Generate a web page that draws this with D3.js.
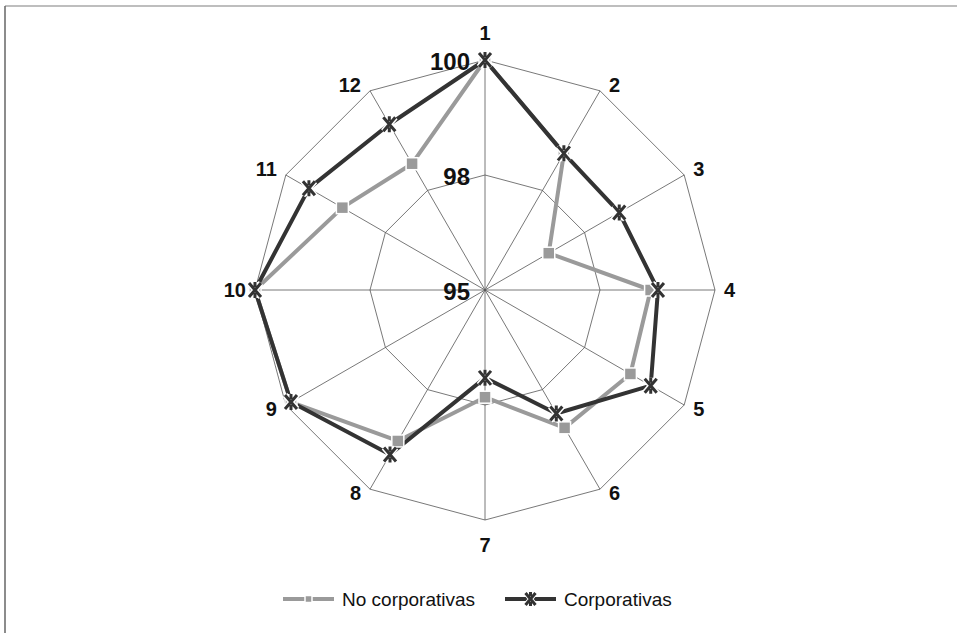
<!DOCTYPE html>
<html><head><meta charset="utf-8">
<script src="https://cdn.jsdelivr.net/npm/d3@7"></script>
<style>body{margin:0;background:#fff}svg{display:block}</style>
</head><body>
<svg id="chart" width="957" height="633"></svg>
<script>
const categories = ["1","2","3","4","5","6","7","8","9","10","11","12"];
const noCorporativas = [100, 98.43, 96.6, 98.6, 98.65, 98.46, 97.33, 98.79, 99.87, 100, 98.58, 98.17];
const corporativas   = [100, 98.43, 98.37, 98.76, 99.16, 98.1, 96.91, 99.13, 99.87, 100, 99.42, 99.16];
const tickValues = [95, 97.5, 100];
const tickLabels = ["95", "98", "100"];
const seriesNames = ["No corporativas", "Corporativas"];

const svg = d3.select("#chart");
const cx = 485, cy = 290, R = 230;
const r = d3.scaleLinear().domain([95, 100]).range([0, R]);
const ang = d3.scaleLinear().domain([0, categories.length]).range([0, 2 * Math.PI]);
const pt = (i, v) => [cx + r(v) * Math.sin(ang(i)), cy - r(v) * Math.cos(ang(i))];

// frame
svg.append("line").attr("x1", 5).attr("y1", 6).attr("x2", 957).attr("y2", 6).attr("stroke", "#a8a8a8").attr("stroke-width", 1.5);
svg.append("line").attr("x1", 5).attr("y1", 6).attr("x2", 5).attr("y2", 633).attr("stroke", "#666").attr("stroke-width", 1.5);

const grid = svg.append("g").attr("stroke", "#555").attr("stroke-width", 0.8).attr("fill", "none");
// rings
tickValues.slice(1).forEach(t => {
  grid.append("path").attr("d", d3.line()(categories.map((c, i) => pt(i, t))) + "Z");
});
// spokes
categories.forEach((c, i) => {
  const [x, y] = pt(i, 100);
  grid.append("line").attr("x1", cx).attr("y1", cy).attr("x2", x).attr("y2", y);
});

// category labels
const labG = svg.append("g").attr("font-family", "Liberation Sans, Arial, sans-serif").attr("font-weight", "bold").attr("font-size", 20).attr("fill", "#111");
categories.forEach((c, i) => {
  const [x, y] = pt(i, 100);
  const s = Math.sin(ang(i)), co = Math.cos(ang(i));
  let tx = x, ty = y, anchor = "middle";
  if (Math.abs(s) < 1e-6) { ty = y + (co > 0 ? -27 : 25); }
  else {
    anchor = s > 0 ? "start" : "end";
    tx = x + (s > 0 ? 9 : -9);
    ty = y + (co > 1e-6 ? -6 : (co < -1e-6 ? 4 : 0));
  }
  labG.append("text").attr("x", tx).attr("y", ty).attr("text-anchor", anchor).attr("dominant-baseline", "central").text(c);
});

// series lines
const lineGen = d3.line();
const series = [
  {name: seriesNames[0], vals: noCorporativas, color: "#9a9a9a", marker: "square"},
  {name: seriesNames[1], vals: corporativas, color: "#333333", marker: "star"}
];
function drawMarker(g, type, x, y, color) {
  if (type === "square") {
    g.append("rect").attr("x", x - 6).attr("y", y - 6).attr("width", 12).attr("height", 12)
      .attr("fill", color).attr("stroke", "#fff").attr("stroke-width", 1.5);
  } else {
    const d = `M${x-6},${y-7}L${x+6},${y+7}M${x+6},${y-7}L${x-6},${y+7}M${x},${y-8}L${x},${y-3}M${x},${y+3}L${x},${y+8}`;
    g.append("path").attr("d", d).attr("stroke", "#fff").attr("stroke-width", 6).attr("fill", "none");
    g.append("path").attr("d", d).attr("stroke", color).attr("stroke-width", 3).attr("fill", "none");
  }
}
series.forEach(s => {
  const pts = s.vals.map((v, i) => pt(i, v));
  svg.append("path").attr("d", lineGen(pts) + "Z").attr("fill", "none").attr("stroke", s.color).attr("stroke-width", 4).attr("stroke-linejoin", "round");
});
series.forEach(s => {
  const g = svg.append("g");
  s.vals.forEach((v, i) => { const [x, y] = pt(i, v); drawMarker(g, s.marker, x, y, s.color); });
});

// tick labels
const tg = svg.append("g").attr("font-family", "Liberation Sans, Arial, sans-serif").attr("font-weight", "bold").attr("font-size", 24).attr("fill", "#111");
tickValues.forEach((t, k) => {
  tg.append("text").attr("x", cx - 15).attr("y", cy - r(t) + 1).attr("text-anchor", "end").attr("dominant-baseline", "central").text(tickLabels[k]);
});

// legend
const lg = svg.append("g").attr("font-family", "Liberation Sans, Arial, sans-serif").attr("font-size", 19).attr("fill", "#111");
const legendX = [283, 505];
series.forEach((s, k) => {
  const x0 = legendX[k], y0 = 599;
  lg.append("line").attr("x1", x0).attr("x2", x0 + 51).attr("y1", y0).attr("y2", y0).attr("stroke", s.color).attr("stroke-width", 4);
  if (s.marker === "square") {
    lg.append("rect").attr("x", x0 + 22).attr("y", y0 - 3.5).attr("width", 7).attr("height", 7).attr("fill", s.color).attr("stroke", "#fff").attr("stroke-width", 1.5);
  } else {
    const x = x0 + 25.5, y = y0;
    const d = `M${x-5},${y-6}L${x+5},${y+6}M${x+5},${y-6}L${x-5},${y+6}M${x},${y-7}L${x},${y-3}M${x},${y+3}L${x},${y+7}`;
    lg.append("path").attr("d", d).attr("stroke", "#fff").attr("stroke-width", 5).attr("fill", "none");
    lg.append("path").attr("d", d).attr("stroke", s.color).attr("stroke-width", 3).attr("fill", "none");
  }
  lg.append("text").attr("x", x0 + 59).attr("y", y0).attr("dominant-baseline", "central").text(s.name);
});
</script>
</body></html>
